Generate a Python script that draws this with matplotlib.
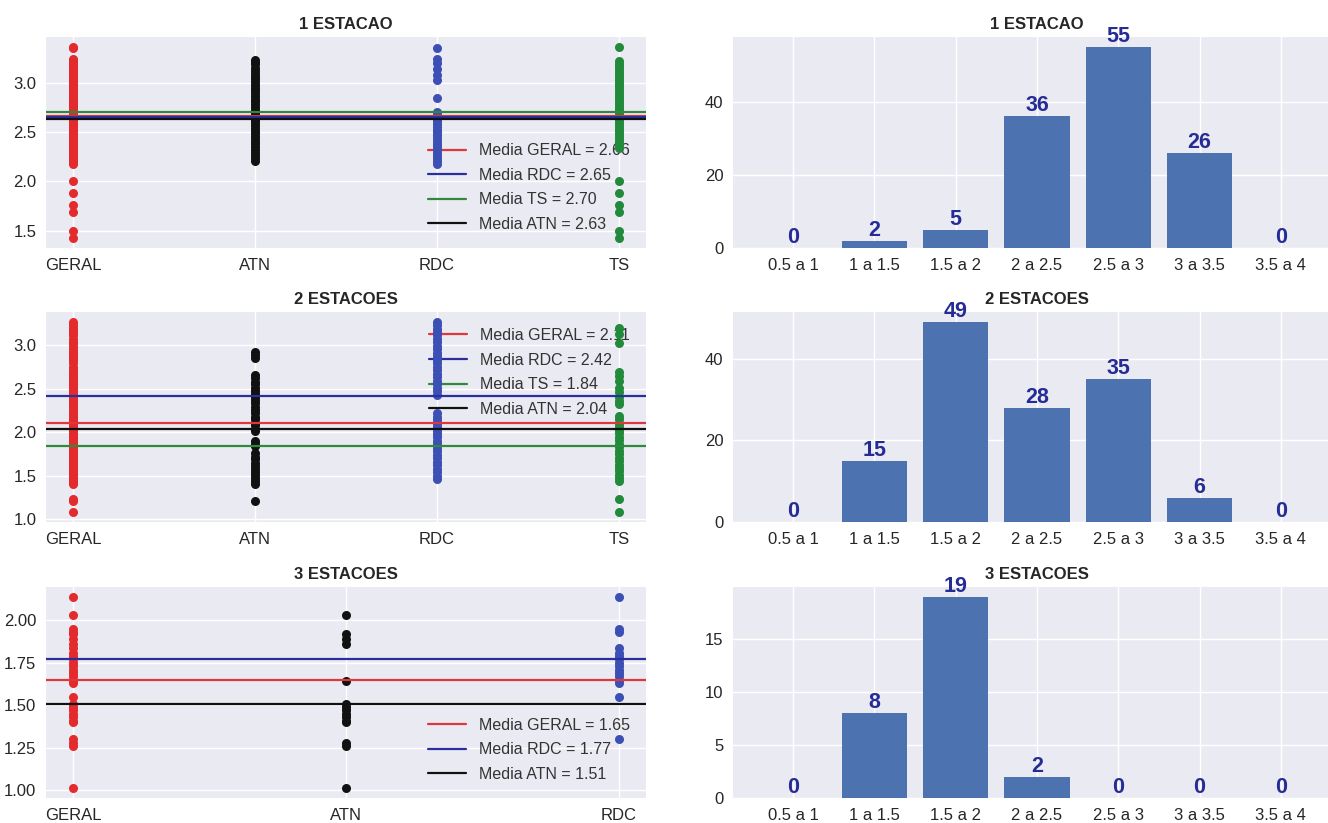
import numpy as np
import matplotlib
matplotlib.use('Agg')
import matplotlib.pyplot as plt
from matplotlib.ticker import MultipleLocator

plt.style.use('seaborn-v0_8')
plt.rcParams['font.family'] = ['Liberation Sans', 'DejaVu Sans']

# capacidade medida por estaca, separada por metodo
atn_1 = [3.23, 3.21, 3.19, 3.15, 3.12, 3.09, 3.06, 3.04, 3.01, 2.98, 2.95, 2.93, 2.90,
         2.87, 2.84, 2.82, 2.79, 2.76, 2.73, 2.71, 2.68, 2.65, 2.62, 2.60, 2.57, 2.54,
         2.51, 2.49, 2.46, 2.43, 2.40, 2.38, 2.35, 2.32, 2.29, 2.27, 2.24, 2.21]
rdc_1 = [3.36, 3.24, 3.20, 3.14, 3.08, 3.03, 2.85, 2.71, 2.68, 2.66, 2.63, 2.61, 2.58,
         2.55, 2.52, 2.50, 2.47, 2.44, 2.41, 2.38, 2.36, 2.33, 2.30, 2.27, 2.24, 2.21, 2.18]
ts_1 = [3.37, 3.22, 3.19, 3.17, 3.14, 3.11, 3.08, 3.06, 3.03, 3.00, 2.97, 2.95, 2.92,
        2.89, 2.86, 2.84, 2.81, 2.78, 2.75, 2.73, 2.70, 2.67, 2.64, 2.62, 2.59, 2.56,
        2.53, 2.51, 2.48, 2.45, 2.42, 2.40, 2.37, 2.34, 2.00, 1.88, 1.76, 1.69, 1.50, 1.42]

atn_2 = [2.92, 2.89, 2.85, 2.66, 2.62, 2.58, 2.55, 2.51, 2.47, 2.44, 2.40, 2.37, 2.33,
         2.29, 2.26, 2.22, 2.18, 2.15, 2.11, 2.08, 2.04, 2.01, 1.90, 1.87, 1.84, 1.76,
         1.72, 1.69, 1.65, 1.61, 1.58, 1.54, 1.51, 1.47, 1.44, 1.41, 1.21]
rdc_2 = [3.27, 3.23, 3.19, 3.15, 3.11, 3.07, 3.03, 2.99, 2.95, 2.91, 2.87, 2.83, 2.79,
         2.75, 2.71, 2.67, 2.63, 2.59, 2.55, 2.51, 2.47, 2.43, 2.22, 2.18, 2.14, 2.10,
         2.06, 2.02, 1.98, 1.94, 1.90, 1.86, 1.82, 1.78, 1.74, 1.70, 1.66, 1.62, 1.58,
         1.54, 1.50, 1.46]
ts_2 = [3.20, 3.13, 3.02, 2.69, 2.64, 2.59, 2.51, 2.46, 2.41, 2.36, 2.32, 2.19, 2.15,
        2.11, 2.07, 2.03, 1.99, 1.95, 1.91, 1.87, 1.83, 1.79, 1.75, 1.71, 1.67, 1.63,
        1.59, 1.55, 1.51, 1.47, 1.44, 1.23, 1.08]

atn_3 = [2.03, 1.92, 1.89, 1.86, 1.64, 1.51, 1.49, 1.47, 1.45, 1.43, 1.41, 1.40, 1.28,
         1.26, 1.01]
rdc_3 = [2.14, 1.95, 1.93, 1.84, 1.81, 1.79, 1.77, 1.75, 1.73, 1.71, 1.69, 1.67, 1.65,
         1.63, 1.55, 1.30]

# medias informadas na legenda
medias_1 = {'GERAL': 2.66, 'RDC': 2.65, 'TS': 2.70, 'ATN': 2.63}
medias_2 = {'GERAL': 2.11, 'RDC': 2.42, 'TS': 1.84, 'ATN': 2.04}
medias_3 = {'GERAL': 1.65, 'RDC': 1.77, 'ATN': 1.51}

# histograma por faixa
faixas = ['0.5 a 1', '1 a 1.5', '1.5 a 2', '2 a 2.5', '2.5 a 3', '3 a 3.5', '3.5 a 4']
contagem_1 = [0, 2, 5, 36, 55, 26, 0]
contagem_2 = [0, 15, 49, 28, 35, 6, 0]
contagem_3 = [0, 8, 19, 2, 0, 0, 0]

titulos = ['1 ESTACAO', '2 ESTACOES', '3 ESTACOES']

cor_ponto = {'GERAL': '#e32a2c', 'ATN': '#111111', 'RDC': '#3c4fb4', 'TS': '#218a3b'}
cor_media = {'GERAL': '#e0363c', 'RDC': '#2b2f9e', 'TS': '#2f8a3e', 'ATN': '#111111'}

grupos = [
    {'ATN': atn_1, 'RDC': rdc_1, 'TS': ts_1},
    {'ATN': atn_2, 'RDC': rdc_2, 'TS': ts_2},
    {'ATN': atn_3, 'RDC': rdc_3},
]
medias = [medias_1, medias_2, medias_3]
contagens = [contagem_1, contagem_2, contagem_3]
passo_y = [20, 20, 5]
locs = ['lower right', 'upper right', 'lower right']

W, H = 1328, 823
fig = plt.figure(figsize=(W / 100, H / 100), dpi=100)
linhas = [(37, 248), (312, 522), (587, 798)]

fs = 12
for i, (topo, base) in enumerate(linhas):
    bottom = (H - base) / H
    height = (base - topo) / H
    ax = fig.add_axes([46 / W, bottom, 600 / W, height])
    axb = fig.add_axes([733 / W, bottom, 608 / W, height])

    # dispersao: GERAL reune todas as estacas do grupo
    g = grupos[i]
    dados = {'GERAL': np.concatenate(list(g.values()))}
    dados.update(g)
    for nome, vals in dados.items():
        ax.plot([nome] * len(vals), vals, 'o', color=cor_ponto[nome], ms=6.5, mew=0, zorder=2)
    for nome, m in medias[i].items():
        ax.axhline(m, color=cor_media[nome], lw=1.6, zorder=3,
                   label=f'Media {nome} = {m:.2f}')
    leg = ax.legend(loc=locs[i], fontsize=11.5, labelspacing=0.6, handlelength=2.4,
                    borderaxespad=0.6)
    leg.set_zorder(1)
    for t in leg.get_texts():
        t.set_color('#333333')
    ax.set_title(titulos[i], fontsize=fs, fontweight='bold', pad=6)
    ax.tick_params(labelsize=fs, colors='#262626')

    # histograma
    barras = axb.bar(faixas, contagens[i], color='#4C72B0', width=0.8, zorder=2)
    for b, c in zip(barras, contagens[i]):
        axb.annotate(str(c), (b.get_x() + b.get_width() / 2, c), ha='center', va='bottom',
                     fontsize=15.5, fontweight='bold', color='#262c96', zorder=4)
    axb.yaxis.set_major_locator(MultipleLocator(passo_y[i]))
    axb.set_title(titulos[i], fontsize=fs, fontweight='bold', pad=6)
    axb.tick_params(labelsize=fs, colors='#262626')

fig.savefig('out.png', dpi=100)
